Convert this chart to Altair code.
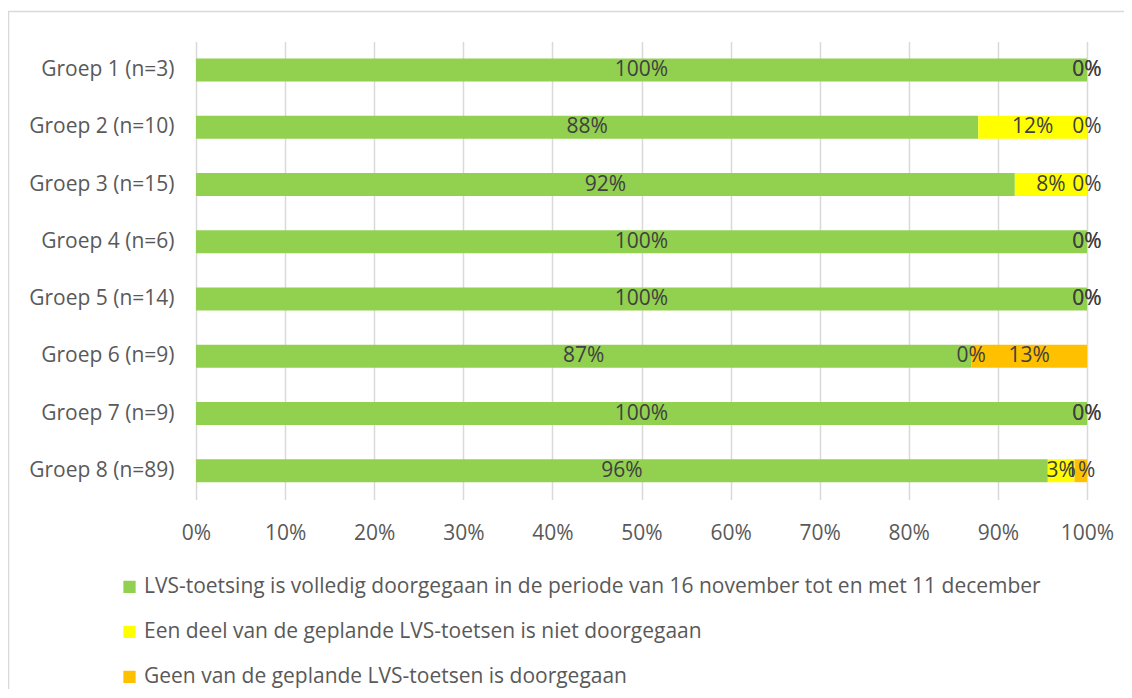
import altair as alt
import pandas as pd

groups = ["Groep 1 (n=3)", "Groep 2 (n=10)", "Groep 3 (n=15)", "Groep 4 (n=6)",
          "Groep 5 (n=14)", "Groep 6 (n=9)", "Groep 7 (n=9)", "Groep 8 (n=89)"]
series = [
    "LVS-toetsing is volledig doorgegaan in de periode van 16 november tot en met 11 december",
    "Een deel van de geplande LVS-toetsen is niet doorgegaan",
    "Geen van de geplande LVS-toetsen is doorgegaan",
]
volledig = [100, 87.8, 91.9, 100, 100, 87.0, 100, 95.6]
deel = [0, 12.2, 8.1, 0, 0, 0, 0, 3.0]
geen = [0, 0, 0, 0, 0, 13.0, 0, 1.4]
colors = ["#92d050", "#ffff00", "#ffc000"]
ticks = [0, 10, 20, 30, 40, 50, 60, 70, 80, 90, 100]

rows = []
for si, vals in enumerate([volledig, deel, geen]):
    for g, v in zip(groups, vals):
        rows.append({"groep": g, "serie": series[si], "ord": si, "value": v})
df = pd.DataFrame(rows)

FONT = "Open Sans"
FS = 21
W, H = 891, 458

base = alt.Chart(df).transform_stack(
    stack="value", groupby=["groep"], as_=["x0", "x1"],
    sort=[alt.SortField("ord", order="ascending")]
)

yenc = alt.Y("groep:N", sort=groups, title=None,
             scale=alt.Scale(paddingInner=0.6, paddingOuter=0.3),
             axis=alt.Axis(labelFont=FONT, labelFontSize=FS, labelColor="#595959",
                           labelPadding=22, ticks=False, domain=False, grid=False))

bars = base.mark_bar().encode(
    x=alt.X("x0:Q", title=None,
            scale=alt.Scale(domain=[0, 100], nice=False),
            axis=alt.Axis(values=ticks, labelExpr="datum.value + '%'",
                          labelFont=FONT, labelFontSize=FS, labelColor="#595959",
                          labelPadding=23, labelFlush=False, ticks=False, domain=False,
                          grid=True, gridColor="#d9d9d9", gridWidth=1.5)),
    x2="x1:Q",
    y=yenc,
    color=alt.Color("serie:N", sort=series,
                    scale=alt.Scale(domain=series, range=colors),
                    legend=alt.Legend(title=None, orient="none", legendX=-77, legendY=535,
                                      direction="vertical", symbolType="square",
                                      symbolSize=150, symbolStrokeWidth=0,
                                      labelFont=FONT, labelFontSize=FS,
                                      labelColor="#595959", rowPadding=23,
                                      labelLimit=1000, padding=0, symbolOffset=0,
                                      labelOffset=4)),
    order=alt.Order("ord:Q"),
)

labels = base.transform_calculate(
    mid="(datum.x0 + datum.x1) / 2",
    label="format(datum.value / 100, '.0%')",
).mark_text(font=FONT, fontSize=FS, color="#404040", baseline="middle").encode(
    x=alt.X("mid:Q"),
    y=alt.Y("groep:N", sort=groups),
    text="label:N",
)

frame = alt.Chart(pd.DataFrame({"a": [0]})).mark_rect(
    fill="transparent", stroke="#d9d9d9", strokeWidth=1.5, clip=False
).encode(
    x=alt.value(-187.5), x2=alt.value(1200),
    y=alt.value(-29.9), y2=alt.value(900),
)

chart = alt.layer(frame, bars, labels).properties(
    width=W, height=H,
    autosize=alt.AutoSizeParams(type="none"),
    padding={"left": 188, "top": 33.4, "right": 37, "bottom": 190},
).configure_view(stroke=None)

chart.save("out.html", embed_options={"renderer": "svg", "actions": False})
